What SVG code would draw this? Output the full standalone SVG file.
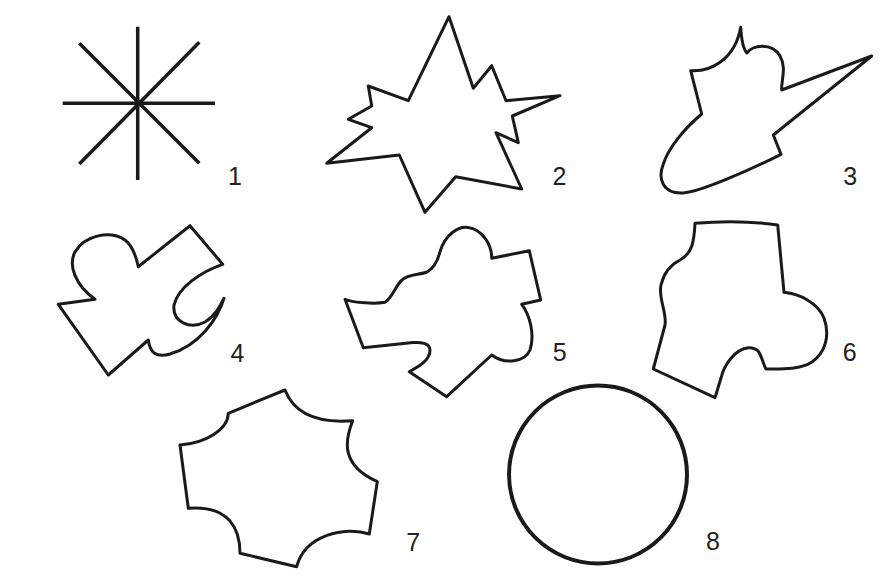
<svg xmlns="http://www.w3.org/2000/svg" width="884" height="573" viewBox="0 0 884 573">
<style>
.s{fill:none;stroke:#1a1a1a;stroke-width:3;stroke-linejoin:round;stroke-linecap:round}
.r{stroke:#1a1a1a;stroke-width:3.5;stroke-linecap:butt}
.lbl{font-family:"Liberation Sans",Arial,sans-serif;font-size:25px;fill:#222;text-anchor:middle}
</style>
<rect width="884" height="573" fill="#ffffff"/>
<g id="fig1">
<line class="r" x1="137.7" y1="26.7" x2="137.7" y2="180"/>
<line class="r" x1="62.7" y1="103.3" x2="215" y2="103.3"/>
<line class="r" x1="79.3" y1="43.3" x2="199.3" y2="163.3"/>
<line class="r" x1="199.3" y1="42.3" x2="79.3" y2="164"/>
<circle cx="137.7" cy="103.3" r="3.5" fill="#1a1a1a"/>
<text class="lbl" x="235" y="184.5">1</text>
</g>
<g id="fig2">
<polygon class="s" points="449,16.7 473.3,88.3 491.7,65.7 506,100.7 560,95.7 512.3,116 518.3,142.7 496,132.7 521.7,189 455.7,176.7 425,212.3 399.3,155 326.7,163.3 371.7,127.7 348.3,119.3 371.7,106 368.3,86 408.3,100.7"/>
<text class="lbl" x="559.5" y="185">2</text>
</g>
<g id="fig3">
<path class="s" d="M740.7,27.3 Q742,48 747,53 C752,45 772,42 780,56 C787,68 781,80 781.7,90 L871.7,56 L773.3,135 L781,154.3 C750,170 700,192 683,193 C662,194 658,178 663,165 C668,148 685,128 701.7,114 L690.7,70.7 C710,72 735,60 740.7,27.3 Z"/>
<text class="lbl" x="850.3" y="185">3</text>
</g>
<g id="fig4">
<path class="s" d="M138.3,266.7 L190,225.7 L222.7,264.3 C200,272 178,288 174,305 C172,322 190,330 205,322 C215,316 220,306 224,298.3 C218,318 200,345 170,354 C155,358 150,352 148.3,340 L108.3,375 L58.3,304.3 L95,299.3 C75,285 68,265 75,252 C85,235 110,230 125,240 C133,246 136,256 138.3,266.7 Z"/>
<text class="lbl" x="237.5" y="361.7">4</text>
</g>
<g id="fig5">
<path class="s" d="M440,251.7 C445,235 458,226 468,227.5 C482,229 492,245 491.7,258.3 L529.3,250.7 L540.7,300 L521.7,304.3 C530,315 535,335 530,350 C525,362 505,365 491.7,355 L446.7,396.7 L409.3,371.7 C420,366 430,360 430,350 C430,343 420,342 413,342.5 L363.3,347.7 L345,299.3 C355,303 375,304 385,302.3 C392,298 396,285 402,280 C408,274 420,275 427,272 C434,268 438,260 440,251.7 Z"/>
<text class="lbl" x="559.7" y="360.7">5</text>
</g>
<g id="fig6">
<path class="s" d="M695,223.3 C720,221 750,221 777.7,225 L784,292.3 C800,294 818,303 824,318 C830,335 826,352 812,362 C800,370 780,369 766,369 C763,364 762,356 758,351 C755,348 752,347.5 748.3,347.7 C735,349 724,365 721,378 L715,397.7 L653.3,369 L665,325 C667,312 658,298 661,285 C664,272 670,265 680,260 C692,253 694,243 695,223.3 Z"/>
<text class="lbl" x="849.7" y="360.7">6</text>
</g>
<g id="fig7">
<path class="s" d="M285,390 C292,408 310,424 352.7,420.7 C345,440 340,465 377.3,481.7 L369.3,534 C345,526 305,535 296.7,566.7 L240,553.3 C240,530 230,505 188.3,508.3 L180,445 C205,443 228,430 228.3,413.3 L285,390 Z"/>
<text class="lbl" x="413.3" y="550.7">7</text>
</g>
<g id="fig8">
<circle cx="598" cy="474.5" r="89" fill="none" stroke="#1a1a1a" stroke-width="4"/>
<text class="lbl" x="713" y="550">8</text>
</g>
<g id="connectors"/>
</svg>
